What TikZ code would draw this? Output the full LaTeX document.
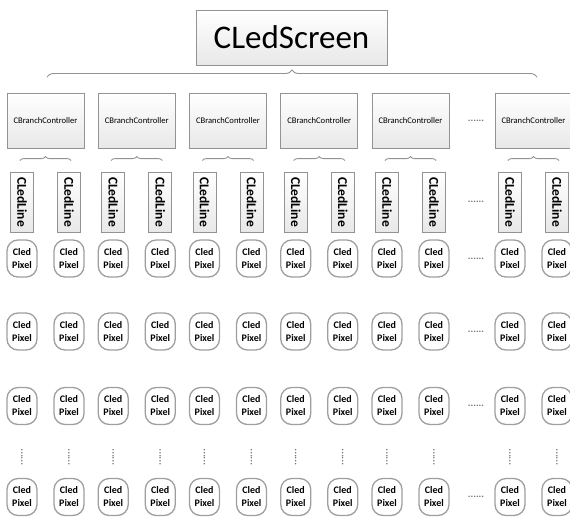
\documentclass[tikz,border=0pt]{standalone}
\usepackage{fontspec}
\setmainfont{Carlito}
\usetikzlibrary{decorations.pathreplacing}

\begin{document}
\begin{tikzpicture}[x=1pt, y=-1pt,
  box/.style={draw=gray!85, line width=0.9pt, top color=white, bottom color=gray!18, inner sep=0pt},
  ctrlbox/.style={box, minimum width=77pt, minimum height=55pt, font=\fontsize{8.6}{10}\selectfont},
  linebox/.style={box, minimum width=23pt, minimum height=60pt, font=\bfseries\fontsize{13.5}{13.5}\selectfont},
  pixbox/.style={draw=gray!75, line width=1.3pt, rounded corners=11pt, fill=white,
    minimum width=30pt, minimum height=37pt, inner sep=0pt, align=center,
    font=\bfseries\fontsize{10}{13}\selectfont},
  hdots/.style={text=gray!90!black, inner sep=0pt, font=\bfseries\fontsize{10}{10}\selectfont},
  brc/.style={draw=gray!85, line width=0.9pt, decorate, decoration={brace, amplitude=#1}}]
  \useasboundingbox (0,0) rectangle (570,517);
  % top level
  \node[box, minimum width=191pt, minimum height=55pt, font=\fontsize{33}{36}\selectfont]
    (screen) at (291.5,37.5) {CLedScreen};
  \coordinate (brl) at (47,77);
  \coordinate (brr) at (537,77);
  \draw[brc=7pt] (brl) -- (brr);
  % controllers, lines and pixels
  \foreach \i/\cx in {1/45.5,2/136.75,3/228,4/319.25,5/410.5,6/533.5}{
    \node[ctrlbox] (ctrl\i) at (\cx,120.5) {CBranchController};
    \foreach \s/\dx in {a/-23.5,b/23.5}{
      \node[linebox] (line\i\s) at (\cx+\dx,202) {\rotatebox{-90}{CLedLine}};
      \foreach \r/\y in {1/258.5,2/331.5,3/406,4/497}
        \node[pixbox] (pix\i\s\r) at (\cx+\dx,\y) {Cled\\Pixel};
      \node[hdots, rotate=90] (vdots\i\s) at (\cx+\dx,457) {......};
    }
    \draw[brc=4pt] ([xshift=-2pt,yshift=11pt]line\i a.north) -- ([xshift=2pt,yshift=11pt]line\i b.north);
  }
  % gaps between the fifth and the last column
  \foreach \r/\y in {c/120.5,l/202,1/258.5,2/331.5,3/406,4/497}
    \node[hdots] (hdots\r) at (476,\y) {......};
\end{tikzpicture}
\end{document}
